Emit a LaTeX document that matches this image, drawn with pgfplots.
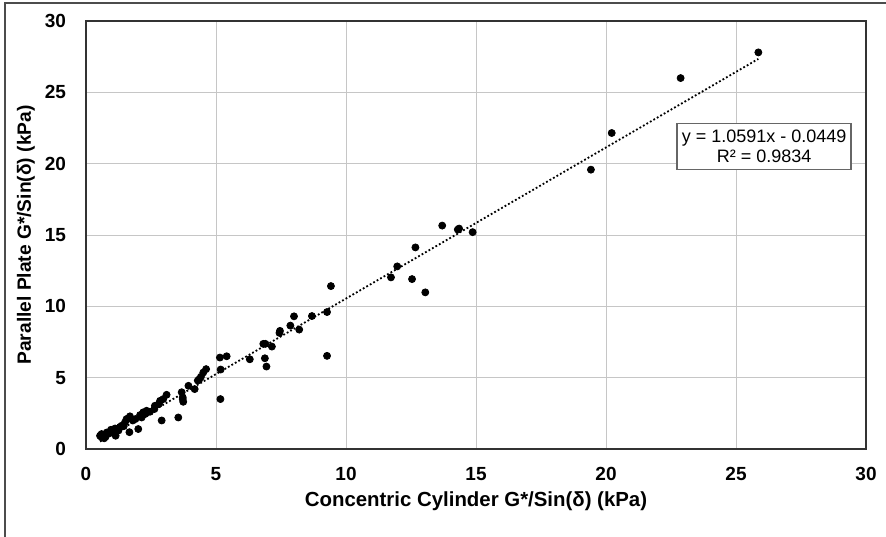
\documentclass[border=0pt]{standalone}
\usepackage{fontspec}
\setmainfont{Liberation Sans}
\usepackage{pgfplots}
\pgfplotsset{compat=1.18}
\begin{document}
\begin{tikzpicture}
\useasboundingbox (0,0) rectangle (443pt,-268pt);
\draw[black!70, line width=0.6pt] (2.5pt,-270pt) -- (2.5pt,-1.5pt) -- (445pt,-1.5pt);
\begin{axis}[
    at={(43pt,-224.5pt)}, anchor=south west,
    scale only axis,
    width=390pt,
    height=214pt,
    xmin=0, xmax=30,
    ymin=0, ymax=30,
    xtick={0,5,...,30},
    ytick={0,5,...,30},
    grid=major,
    major grid style={gray!45, line width=0.5pt},
    axis line style={black!80, line width=0.6pt},
    major tick length=0,
    /pgf/number format/assume math mode=true,
    tick label style={font=\fontsize{9.5}{11}\selectfont\bfseries},
    xticklabel style={yshift=-5.7pt},
    yticklabel style={xshift=-6.5pt},
    xlabel={Concentric Cylinder G*/Sin(δ) (kPa)},
    ylabel={Parallel Plate G*/Sin(δ) (kPa)},
    xlabel style={font=\fontsize{10.2}{12}\selectfont\bfseries,
                  at={(axis description cs:0.5,-0.1215)}, anchor=center},
    ylabel style={font=\fontsize{9.6}{11}\selectfont\bfseries,
                  at={(axis description cs:-0.0769,0.5)}, anchor=center},
]
% measured points
\addplot[only marks, mark=*, mark size=1.75pt, black] coordinates {
    (25.86, 27.80) (22.87, 26.00) (20.22, 22.15) (19.42, 19.58)
    (14.87, 15.20) (14.35, 15.45) (14.30, 15.38) (13.70, 15.66)
    (12.67, 14.13) (11.97, 12.80) (11.73, 12.03) (12.54, 11.91)
    (13.05, 10.98) (9.42, 11.42) (9.27, 9.60) (9.27, 6.53)
    (8.69, 9.32) (8.00, 9.30) (7.86, 8.65) (8.20, 8.37)
    (7.46, 8.28) (7.44, 8.14) (6.82, 7.37) (6.90, 7.37)
    (7.15, 7.18) (6.30, 6.29) (6.88, 6.36) (6.94, 5.78)
    (5.15, 6.41) (5.41, 6.50) (5.18, 5.57) (5.17, 3.50)
    (4.62, 5.60) (4.51, 5.36) (4.42, 5.06) (4.36, 4.90)
    (4.30, 4.80) (4.18, 4.20) (3.94, 4.43) (3.68, 3.98)
    (3.72, 3.50) (3.74, 3.31) (3.72, 3.62) (3.55, 2.21)
    (3.10, 3.80) (2.97, 3.50) (2.85, 3.38) (2.80, 3.15)
    (2.65, 3.03) (2.91, 2.00) (2.63, 2.80) (2.46, 2.61)
    (2.33, 2.68) (2.27, 2.45) (2.20, 2.57) (2.08, 2.38)
    (2.14, 2.21) (2.01, 1.40) (1.69, 2.29) (1.63, 2.15)
    (1.56, 2.10) (1.50, 1.87) (1.67, 1.18) (1.37, 1.63)
    (1.31, 1.55) (1.18, 1.40) (1.12, 1.44) (1.14, 0.93)
    (0.99, 1.28) (0.96, 1.35) (0.80, 1.16) (0.67, 0.98)
    (0.60, 1.05) (0.60, 0.82) (0.54, 0.93) (0.75, 0.85)
    (0.90, 1.10) (1.25, 1.30) (1.45, 1.60) (1.80, 2.00)
    (1.90, 2.10) (2.30, 2.50) (1.05, 1.15) (0.70, 0.75)
};
% linear trendline
\addplot[black, line width=0.9pt, dash pattern=on 0.9pt off 1.1pt] coordinates {
    (0.54, 0.527) (25.86, 27.344)
};
\node[draw=black!60, fill=white, line width=0.6pt, align=center,
      minimum width=87pt, minimum height=23pt, inner sep=1pt,
      font=\fontsize{9}{10}\selectfont] at (axis cs:26.08,21.19)
      {y = 1.0591x - 0.0449\\R² = 0.9834};
\end{axis}
\end{tikzpicture}
\end{document}
